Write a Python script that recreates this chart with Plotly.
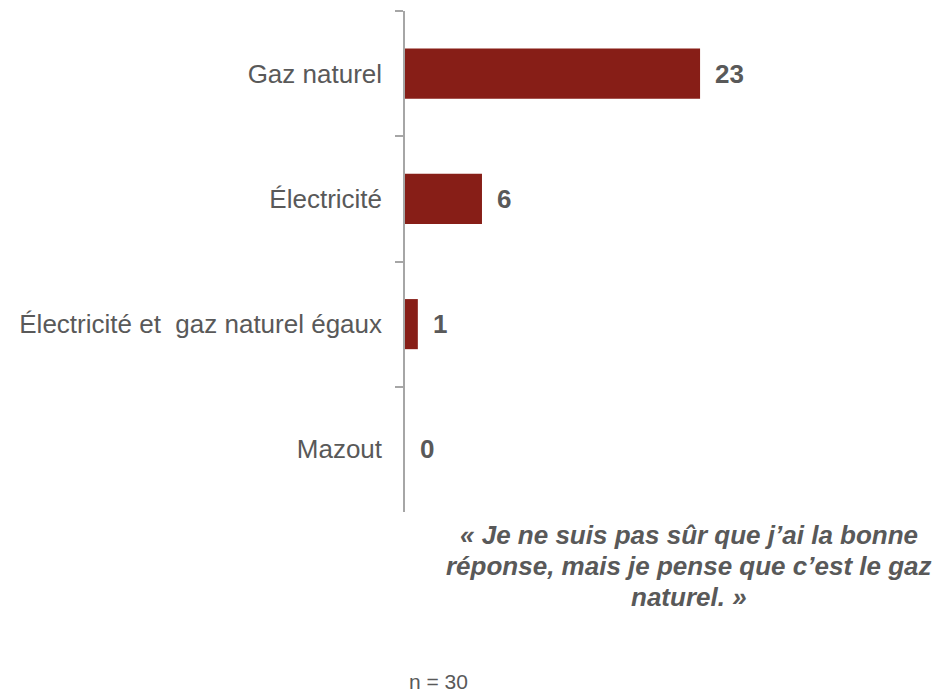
import plotly.graph_objects as go

categories = ["Gaz naturel", "Électricité", "Électricité et  gaz naturel égaux", "Mazout"]
values = [23, 6, 1, 0]
quote_lines = [
    "« Je ne suis pas sûr que j’ai la bonne",
    "réponse, mais je pense que c’est le gaz",
    "naturel. »",
]
sample_note = "n = 30"

FONT = "Liberation Sans, Arial, sans-serif"
TEXT_COLOR = "#595959"
BAR_COLOR = "#871E17"
AXIS_COLOR = "#A6A6A6"

fig = go.Figure()
fig.add_trace(go.Bar(
    x=values, y=categories, orientation="h",
    marker=dict(color=BAR_COLOR, line=dict(width=0)),
    hoverinfo="skip",
))

for cat, val in zip(categories, values):
    fig.add_annotation(
        x=val, y=cat, xref="x", yref="y", text=f"<b>{val}</b>",
        showarrow=False, xanchor="left", yanchor="middle", xshift=13,
        font=dict(family=FONT, size=26, color=TEXT_COLOR),
    )

for i, line in enumerate(quote_lines):
    fig.add_annotation(
        x=0.54, y=-0.1078, xref="paper", yref="paper",
        text=f"<b><i>{line}</i></b>", showarrow=False,
        xanchor="center", yanchor="middle", align="center",
        yshift=31 * (1 - i),
        font=dict(family=FONT, size=26, color=TEXT_COLOR),
    )

fig.add_annotation(
    x=0.004, y=-0.339, xref="paper", yref="paper",
    text=sample_note, showarrow=False, xanchor="left", yanchor="middle",
    font=dict(family=FONT, size=21, color=TEXT_COLOR),
)

fig.update_layout(
    width=941, height=692,
    margin=dict(l=397, r=18, t=3, b=188),
    paper_bgcolor="white", plot_bgcolor="white",
    bargap=0.6, showlegend=False,
    font=dict(family=FONT, size=26, color=TEXT_COLOR),
    xaxis=dict(range=[0, 41], visible=False, showgrid=False, zeroline=False),
    yaxis=dict(
        autorange="reversed", showline=True, linecolor=AXIS_COLOR, linewidth=1.5,
        ticks="outside", tickson="boundaries", ticklen=8, tickcolor=AXIS_COLOR,
        tickwidth=1.5, showgrid=False, zeroline=False, ticklabelstandoff=16,
        tickfont=dict(family=FONT, size=26, color=TEXT_COLOR),
    ),
)

fig.write_html("out.html")
